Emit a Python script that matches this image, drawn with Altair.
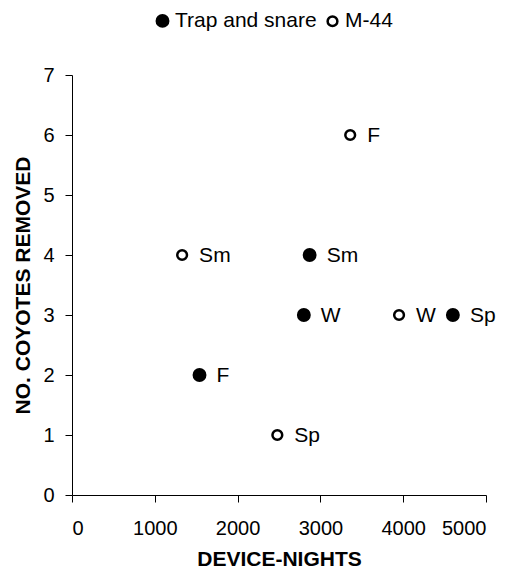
import altair as alt
import pandas as pd

series = ["Trap and snare", "Trap and snare", "Trap and snare", "Trap and snare",
          "M-44", "M-44", "M-44", "M-44"]
season = ["F", "Sm", "W", "Sp", "F", "Sm", "W", "Sp"]
device_nights = [1540, 2870, 2800, 4600, 3360, 1330, 3950, 2480]
coyotes = [2, 4, 3, 3, 6, 4, 3, 1]
x_ticks = [0, 1000, 2000, 3000, 4000, 5000]
y_ticks = [0, 1, 2, 3, 4, 5, 6, 7]

df = pd.DataFrame({"series": series, "season": season,
                   "nights": device_nights, "coyotes": coyotes})

dom = ["Trap and snare", "M-44"]
FONT = "Liberation Sans"

x = alt.X("nights:Q", title="DEVICE-NIGHTS",
          scale=alt.Scale(domain=[0, 5000], nice=False),
          axis=alt.Axis(values=x_ticks, format="d",
                        labelFontSize=20, labelPadding=16, titlePadding=10))
y = alt.Y("coyotes:Q", title="NO. COYOTES REMOVED",
          scale=alt.Scale(domain=[0, 7], nice=False),
          axis=alt.Axis(values=y_ticks, format="d",
                        labelFontSize=20, labelPadding=11, titlePadding=9))

leg = alt.Legend(title=None, orient="none", direction="horizontal",
                 legendX=80, legendY=-65,
                 symbolStrokeWidth=2.5,
                 labelFontSize=21, labelOffset=2, columnPadding=5)

points = alt.Chart(df).mark_point(
    shape="circle", filled=False, strokeWidth=2.5, opacity=1
).encode(
    x=x, y=y,
    fill=alt.Fill("series:N", scale=alt.Scale(domain=dom, range=["black", "white"]),
                  legend=leg),
    stroke=alt.Stroke("series:N", scale=alt.Scale(domain=dom, range=["black", "black"]),
                      legend=leg),
    size=alt.Size("series:N", scale=alt.Scale(domain=dom, range=[130, 95]),
                  legend=leg),
)

labels = alt.Chart(df).mark_text(
    align="left", baseline="middle", dx=17, dy=1, fontSize=21, font=FONT, color="black"
).encode(x="nights:Q", y="coyotes:Q", text="season:N")

chart = alt.layer(points, labels).properties(
    width=414, height=420,
    autosize=alt.AutoSizeParams(type="none"),
    padding={"left": 64, "top": 67, "right": 15, "bottom": 76},
).configure_view(stroke=None).configure_axis(
    grid=False, domainColor="black", tickColor="black", tickSize=7,
    labelColor="black", titleColor="black", labelFont=FONT, titleFont=FONT,
    titleFontSize=21, titleFontWeight="bold", domainWidth=1, tickWidth=1,
).configure_legend(
    labelFont=FONT, labelColor="black", symbolOpacity=1, padding=0,
)

chart.save("out.html", embed_options={"renderer": "svg", "actions": False})
